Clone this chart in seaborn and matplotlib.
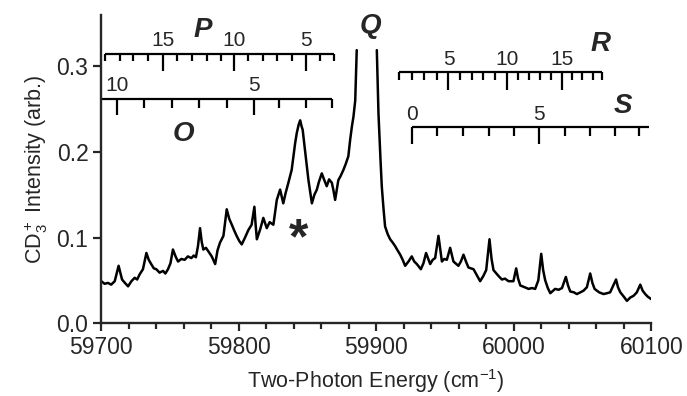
import numpy as np
import pandas as pd
import matplotlib
matplotlib.use("Agg")
import matplotlib.pyplot as plt
import seaborn as sns
from matplotlib.ticker import MultipleLocator, FormatStrFormatter

# spectrum (left of Q, then right of Q; the Q top is off scale)
energy_left = [59700.2, 59702.6, 59705.1, 59707.4, 59710.0, 59712.8, 59715.3, 59717.4, 59719.7, 59722.1,
               59724.5, 59726.3, 59728.1, 59730.5, 59733.0, 59734.7, 59736.5, 59738.4, 59740.2, 59742.6,
               59745.1, 59746.8, 59748.7, 59750.5, 59752.3, 59754.2, 59756.0, 59758.4, 59760.8, 59763.2,
               59765.7, 59767.4, 59769.0, 59770.5, 59772.0, 59773.2, 59774.4, 59776.3, 59778.0, 59780.5,
               59783.0, 59784.7, 59786.5, 59789.0, 59791.4, 59793.2, 59795.1, 59796.9, 59798.6, 59800.5,
               59802.3, 59804.7, 59807.2, 59809.5, 59811.5, 59812.4, 59813.3, 59815.8, 59818.0, 59820.5,
               59822.6, 59825.3, 59826.6, 59827.8, 59830.2, 59832.5, 59834.2, 59836.2, 59838.6, 59839.9,
               59841.1, 59842.3, 59843.7, 59844.8, 59845.8, 59846.6, 59848.3, 59850.8, 59853.3, 59855.1,
               59856.9, 59858.4, 59860.5, 59862.1, 59864.1, 59865.8, 59867.8, 59869.0, 59870.2, 59872.5,
               59874.2, 59876.2, 59877.9, 59879.8, 59881.1, 59882.4, 59883.5, 59884.8, 59885.9]
intensity_left = [0.049, 0.046, 0.047, 0.045, 0.049, 0.067, 0.051, 0.047, 0.043, 0.049,
                  0.053, 0.051, 0.057, 0.063, 0.082, 0.074, 0.069, 0.064, 0.063, 0.059,
                  0.061, 0.058, 0.063, 0.070, 0.086, 0.078, 0.072, 0.075, 0.074, 0.078,
                  0.076, 0.079, 0.077, 0.090, 0.111, 0.095, 0.086, 0.088, 0.084, 0.078,
                  0.069, 0.085, 0.094, 0.102, 0.133, 0.122, 0.115, 0.108, 0.102, 0.096,
                  0.092, 0.100, 0.109, 0.115, 0.136, 0.115, 0.098, 0.110, 0.123, 0.111,
                  0.118, 0.115, 0.130, 0.144, 0.156, 0.140, 0.152, 0.164, 0.179, 0.195,
                  0.210, 0.222, 0.232, 0.237, 0.230, 0.226, 0.202, 0.167, 0.140, 0.150,
                  0.156, 0.165, 0.175, 0.168, 0.160, 0.168, 0.164, 0.155, 0.144, 0.167,
                  0.172, 0.179, 0.186, 0.195, 0.214, 0.230, 0.241, 0.260, 0.319]

energy_right = [59900.5, 59901.7, 59903.2, 59904.1, 59905.3, 59906.5, 59908.4, 59910.2, 59912.1, 59913.8,
                59915.6, 59917.5, 59919.3, 59921.1, 59923.5, 59925.9, 59927.7, 59929.6, 59932.5, 59934.4,
                59936.3, 59939.3, 59941.1, 59942.9, 59945.3, 59947.8, 59949.5, 59951.4, 59953.8, 59956.2,
                59959.8, 59961.6, 59963.5, 59965.3, 59967.1, 59970.8, 59973.2, 59975.6, 59977.9, 59980.0,
                59982.4, 59983.9, 59985.3, 59989.0, 59991.4, 59993.7, 59996.2, 59999.8, 60001.8, 60003.2,
                60004.8, 60007.9, 60010.8, 60013.2, 60015.6, 60017.9, 60020.0, 60021.4, 60022.9, 60024.8,
                60026.6, 60030.1, 60032.7, 60035.1, 60037.9, 60039.5, 60041.1, 60043.7, 60045.9, 60048.5,
                60050.8, 60053.2, 60055.6, 60057.2, 60058.8, 60062.1, 60065.3, 60067.9, 60070.1, 60074.4,
                60075.8, 60077.5, 60080.0, 60082.3, 60084.8, 60087.2, 60089.5, 60092.0, 60093.7, 60095.6,
                60097.4, 60100.0]
intensity_right = [0.319, 0.245, 0.190, 0.160, 0.135, 0.113, 0.104, 0.098, 0.094, 0.090,
                   0.085, 0.080, 0.074, 0.067, 0.072, 0.078, 0.072, 0.069, 0.063, 0.070,
                   0.082, 0.069, 0.074, 0.076, 0.102, 0.072, 0.075, 0.074, 0.088, 0.072,
                   0.067, 0.072, 0.080, 0.072, 0.065, 0.063, 0.056, 0.049, 0.055, 0.062,
                   0.098, 0.075, 0.062, 0.055, 0.051, 0.052, 0.049, 0.049, 0.064, 0.052,
                   0.044, 0.042, 0.040, 0.041, 0.040, 0.050, 0.081, 0.062, 0.050, 0.041,
                   0.035, 0.040, 0.039, 0.041, 0.054, 0.044, 0.037, 0.036, 0.034, 0.036,
                   0.038, 0.042, 0.058, 0.047, 0.040, 0.036, 0.034, 0.035, 0.036, 0.051,
                   0.042, 0.036, 0.031, 0.026, 0.030, 0.032, 0.036, 0.045, 0.038, 0.034,
                   0.031, 0.028]

# rotational branch combs (J values and line positions, cm-1)
p_j = [19, 18, 17, 16, 15, 14, 13, 12, 11, 10, 9, 8, 7, 6, 5, 4, 3]
p_pos = [59702.9, 59713.8, 59723.5, 59734.4, 59745.3, 59755.5, 59766.0, 59776.9, 59787.1,
         59796.7, 59807.1, 59817.6, 59827.8, 59838.7, 59849.1, 59859.3, 59869.5]
o_j = [10, 9, 8, 7, 6, 5, 4, 3, 2]
o_pos = [59711.4, 59731.3, 59751.4, 59771.5, 59791.4, 59811.3, 59829.5, 59849.1, 59867.8]
r_j = list(range(1, 20))
r_pos = [59916.9, 59926.0, 59934.9, 59943.9, 59952.6, 59961.1, 59969.6, 59978.0, 59986.5, 59995.1,
         60003.1, 60011.1, 60019.1, 60027.1, 60035.1, 60042.5, 60050.0, 60057.3, 60064.1]
s_j = list(range(0, 10))
s_pos = [59926.0, 59944.1, 59963.5, 59981.7, 59999.9, 60018.5, 60037.5, 60055.6, 60073.8, 60090.8]

df = pd.DataFrame({
    "energy": energy_left + energy_right,
    "intensity": intensity_left + intensity_right,
    "segment": ["left"] * len(energy_left) + ["right"] * len(energy_right),
})

sns.set_theme(style="ticks")
plt.rcParams['font.family'] = ['Liberation Sans', 'DejaVu Sans']
plt.rcParams['mathtext.fontset'] = 'custom'
plt.rcParams['mathtext.rm'] = 'Liberation Sans'
plt.rcParams['mathtext.it'] = 'Liberation Sans:italic'

fig = plt.figure(figsize=(6.87, 3.96), dpi=100)
ax = fig.add_axes([0.147, 0.184, 0.801, 0.778])

sns.lineplot(data=df, x="energy", y="intensity", units="segment", estimator=None,
             color="black", lw=1.8, ax=ax, legend=False)


def comb(ax, js, pos, y, minor, major, label_dy, x_start=None, x_end=None):
    x0 = min(pos) if x_start is None else x_start
    x1 = max(pos) if x_end is None else x_end
    ax.hlines(y, x0, x1, color="black", lw=1.6)
    for j, p in zip(js, pos):
        length = major if j % 5 == 0 else minor
        ax.vlines(p, y - length, y, color="black", lw=1.6)
        if j % 5 == 0:
            ax.text(p, y + label_dy, str(j), ha="center", va="bottom", fontsize=15)


comb(ax, p_j, p_pos, 0.315, 0.009, 0.020, 0.004)
comb(ax, o_j, o_pos, 0.262, 0.011, 0.019, 0.004, x_start=59700.5)
comb(ax, r_j, r_pos, 0.293, 0.009, 0.021, 0.004)
comb(ax, s_j, s_pos, 0.229, 0.010, 0.020, 0.004, x_end=60098)

branch_style = dict(fontsize=20, fontweight="bold", fontstyle="italic", ha="center", va="center")
ax.text(59774.2, 0.343, "P", **branch_style)
ax.text(59759.6, 0.221, "O", **branch_style)
ax.text(59895.6, 0.347, "Q", **branch_style)
ax.text(60062.9, 0.326, "R", **branch_style)
ax.text(60079.6, 0.254, "S", **branch_style)
ax.text(59843.3, 0.097, "*", fontsize=36, fontweight="bold", ha="center", va="center")

ax.set_xlim(59700, 60100)
ax.set_ylim(0, 0.36)
ax.xaxis.set_major_locator(MultipleLocator(100))
ax.xaxis.set_minor_locator(MultipleLocator(20))
ax.yaxis.set_major_locator(MultipleLocator(0.1))
ax.yaxis.set_major_formatter(FormatStrFormatter("%.1f"))
ax.tick_params(axis="both", which="major", direction="out", length=6, width=1.6, labelsize=16.5, pad=3)
ax.tick_params(axis="x", which="minor", direction="out", length=4, width=1.6)
for side in ["left", "bottom"]:
    ax.spines[side].set_linewidth(1.7)
sns.despine(ax=ax)

ax.set_xlabel("Two-Photon Energy (cm$^{-1}$)", fontsize=15.5, labelpad=6)
ax.set_ylabel("CD$_3^+$ Intensity (arb.)", fontsize=15.5, labelpad=5)

fig.savefig("out.png", dpi=100)
